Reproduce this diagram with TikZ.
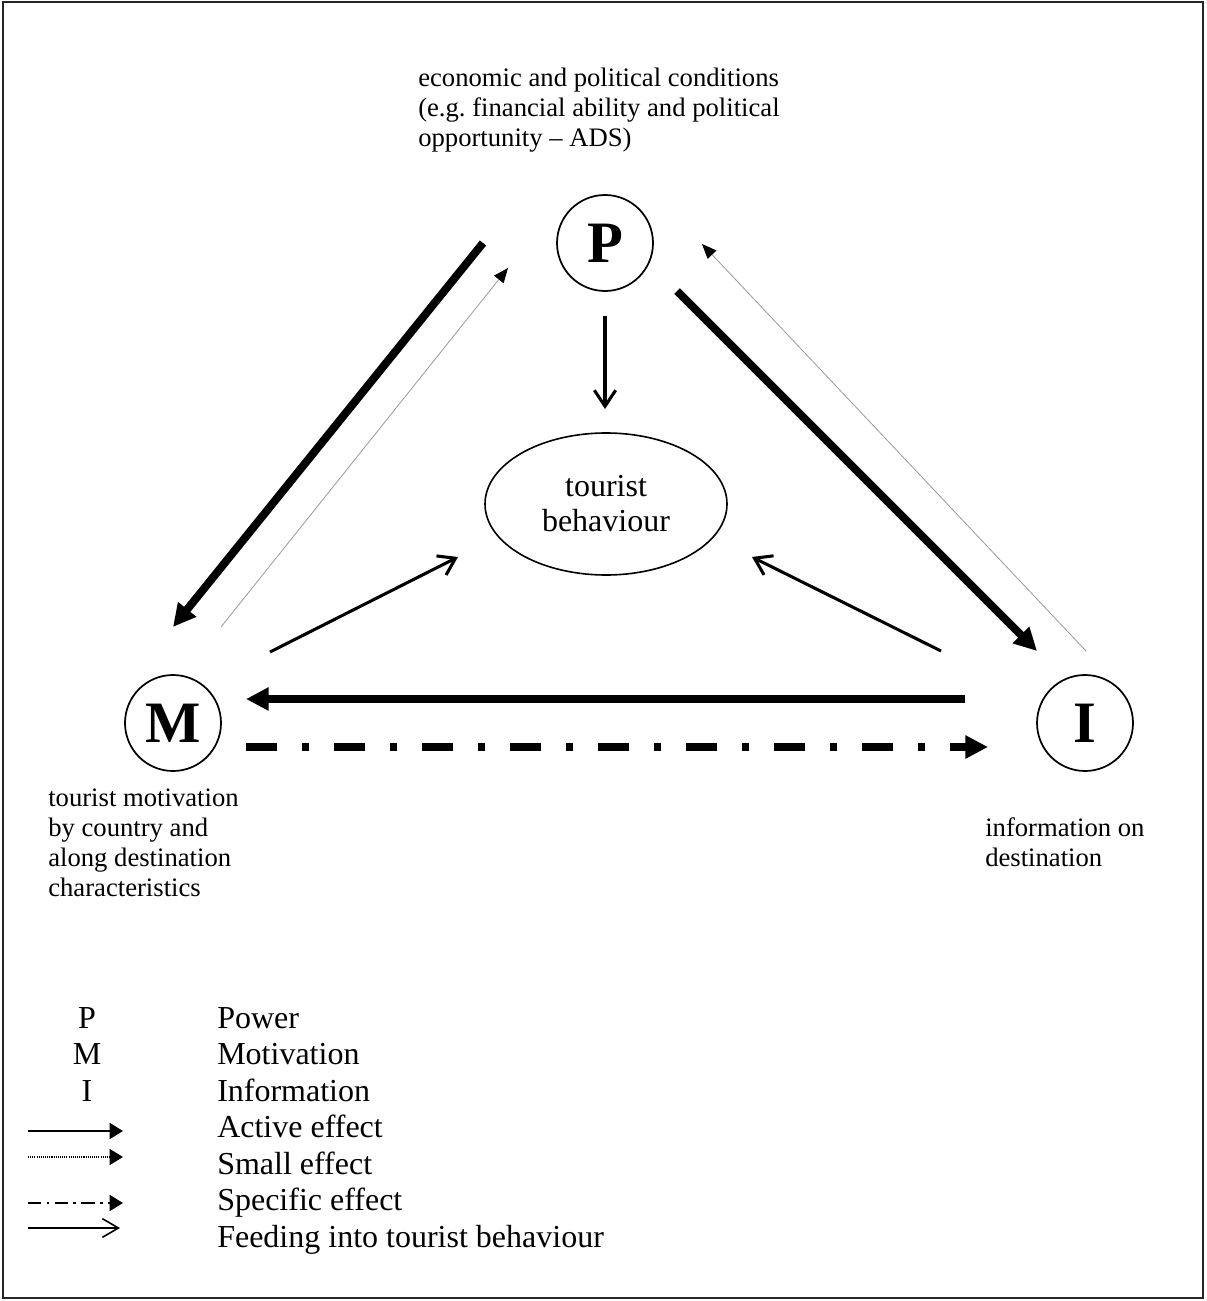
\documentclass[tikz,border=0pt]{standalone}
\usepackage{fontspec}
\setmainfont{Liberation Serif}
\usetikzlibrary{arrows.meta,shapes.geometric}
\frenchspacing
\begin{document}
\begin{tikzpicture}[x=0.75pt,y=-0.75pt,
  circ/.style={circle,draw,line width=1.3pt,minimum size=72pt,inner sep=0pt,
    font=\fontsize{44}{44}\selectfont\bfseries},
  ell/.style={ellipse,draw,line width=1.2pt,minimum width=181.5pt,minimum height=106.5pt,
    inner sep=0pt,align=center,font=\fontsize{24}{26.25}\selectfont},
  note/.style={anchor=north west,align=left,inner sep=0pt,font=\fontsize{20}{22.5}\selectfont},
  legtxt/.style={anchor=base west,inner sep=0pt,font=\fontsize{24}{26}\selectfont},
  legsym/.style={anchor=base,inner sep=0pt,font=\fontsize{24}{26}\selectfont},
  strongarr/.style={line width=6pt,-{Triangle[length=17pt,width=16.5pt]}},
  specarr/.style={line width=6pt,dash pattern=on 23.25pt off 18.75pt on 5.25pt off 18.75pt,
    -{Triangle[length=17pt,width=16.5pt]}},
  weakarr/.style={line width=0.6pt,draw=black!40,-{Triangle[length=11pt,width=9pt,color=black]}},
  feedarr/.style={line width=2.3pt,-{Straight Barb[length=12pt,width=16pt]}},
  legactive/.style={line width=1.3pt,-{Triangle[length=10pt,width=12pt]}},
  legsmall/.style={line width=0.8pt,dash pattern=on 0.8pt off 0.8pt,-{Triangle[length=10pt,width=12pt]}},
  legspec/.style={line width=1.3pt,dash pattern=on 10pt off 4pt on 2pt off 4pt,-{Triangle[length=10pt,width=12pt]}},
  legfeed/.style={line width=1.2pt,-{Straight Barb[length=12pt,width=14pt]}}
]
\useasboundingbox (0,0) rectangle (1206,1301);
\draw[line width=1pt,black!85] (3,2) rectangle (1203,1298);

% main nodes
\node[circ] (P) at (605,243) {P};
\node[circ] (M) at (173,723) {M};
\node[circ] (I) at (1085,723) {I};
\node[ell] (B) at (606,504) {tourist\\behaviour};

% annotations
\node[note] (tP) at (418,68) {economic and political conditions\\(e.g. financial ability and political\\opportunity -- ADS)};
\node[note] (tM) at (48,789) {tourist motivation\\by country and\\along destination\\characteristics};
\node[note] (tI) at (985,817) {information on\\destination};

% connector end points
\coordinate (pm1) at (483,243); \coordinate (pm2) at (173,627);
\coordinate (mp1) at (221,627); \coordinate (mp2) at (508,268);
\coordinate (pi1) at (677,291); \coordinate (pi2) at (1037,651);
\coordinate (ip1) at (1086,651); \coordinate (ip2) at (702,244);
\coordinate (pb1) at (605,316); \coordinate (pb2) at (605,409);
\coordinate (mb1) at (270,652); \coordinate (mb2) at (458,557);
\coordinate (ib1) at (941,651); \coordinate (ib2) at (752,557);
\coordinate (im1) at (965,699); \coordinate (im2) at (246,699);
\coordinate (mi1) at (246,747); \coordinate (mi2) at (988,747);

\draw[strongarr] (pm1) -- (pm2);
\draw[weakarr] (mp1) -- (mp2);
\draw[strongarr] (pi1) -- (pi2);
\draw[weakarr] (ip1) -- (ip2);
\draw[feedarr] (pb1) -- (pb2);
\draw[feedarr] (mb1) -- (mb2);
\draw[feedarr] (ib1) -- (ib2);
\draw[strongarr] (im1) -- (im2);
\draw[specarr] (mi1) -- (mi2);

% legend
\node[legsym] (lP) at (87,1028) {P};
\node[legtxt] (lPt) at (217,1028) {Power};
\node[legsym] (lM) at (87,1064.5) {M};
\node[legtxt] (lMt) at (217,1064.5) {Motivation};
\node[legsym] (lI) at (87,1101) {I};
\node[legtxt] (lIt) at (217,1101) {Information};
\node[legtxt] (lA) at (217,1137.5) {Active effect};
\node[legtxt] (lS) at (217,1174) {Small effect};
\node[legtxt] (lSp) at (217,1210.5) {Specific effect};
\node[legtxt] (lF) at (217,1247) {Feeding into tourist behaviour};

\coordinate (la1) at (28,1131); \coordinate (la2) at (123,1131);
\coordinate (ls1) at (28,1157); \coordinate (ls2) at (123,1157);
\coordinate (lsp1) at (28,1203); \coordinate (lsp2) at (123,1203);
\coordinate (lf1) at (28,1228); \coordinate (lf2) at (120,1228);
\draw[legactive] (la1) -- (la2);
\draw[legsmall] (ls1) -- (ls2);
\draw[legspec] (lsp1) -- (lsp2);
\draw[legfeed] (lf1) -- (lf2);
\end{tikzpicture}
\end{document}
